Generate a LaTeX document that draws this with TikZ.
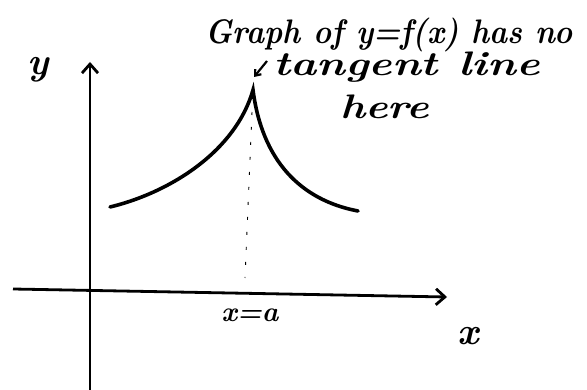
\documentclass[tikz,border=0pt]{standalone}
\usetikzlibrary{arrows.meta}
\begin{document}
\begin{tikzpicture}[x=1pt,y=-1pt,
  axis/.style={line width=2.8pt,-{Straight Barb[length=9pt,width=16pt,line width=2.8pt]}},
  curve/.style={line width=3.6pt,line cap=round},
  guide/.style={line width=0.9pt,dash pattern=on 3pt off 12pt},
  hand/.style={font=\bfseries\itshape\fontsize{34}{36}\selectfont,inner sep=0pt,anchor=west,transform shape},
  lbl/.style={font=\bfseries\itshape\fontsize{38}{40}\selectfont,inner sep=0pt}]
\useasboundingbox (0,0) rectangle (587,390);
% axes
\coordinate (ybot) at (90,390);
\coordinate (ytop) at (90,62);
\coordinate (xleft) at (13,289);
\coordinate (xright) at (447,297);
\draw[axis] (ybot) -- (ytop);
\draw[axis] (xleft) -- (xright);
% curve
\coordinate (L) at (110,207);
\coordinate (P) at (253,90);
\coordinate (R) at (358,211);
\coordinate (foot) at (245,278);
\draw[curve] (L) .. controls (172,192) and (236,150) .. (P)
             .. controls (262,160) and (300,200) .. (R);
\draw[guide] (252,112) -- (foot);
% labels
\node[lbl] (ylab) at (38,70) {y};
\node[lbl] (xlab) at (468,336) {x};
\node[font=\bfseries\itshape\fontsize{28}{30}\selectfont,inner sep=0pt] (xa) at (250,315) {x=a};
\node[hand,xscale=0.9] (t1) at (205,35) {Graph of y=f(x) has no};
\node[hand,xscale=1.3] (t2) at (273,67) {tangent\hspace{16pt}line};
\node[hand,xscale=1.25] (t3) at (340,107) {here};
\coordinate (arrS) at (267,61);
\coordinate (arrE) at (254,77);
\draw[line width=2.2pt,-{Straight Barb[length=5pt,width=8pt]}] (arrS) -- (arrE);
\end{tikzpicture}
\end{document}
